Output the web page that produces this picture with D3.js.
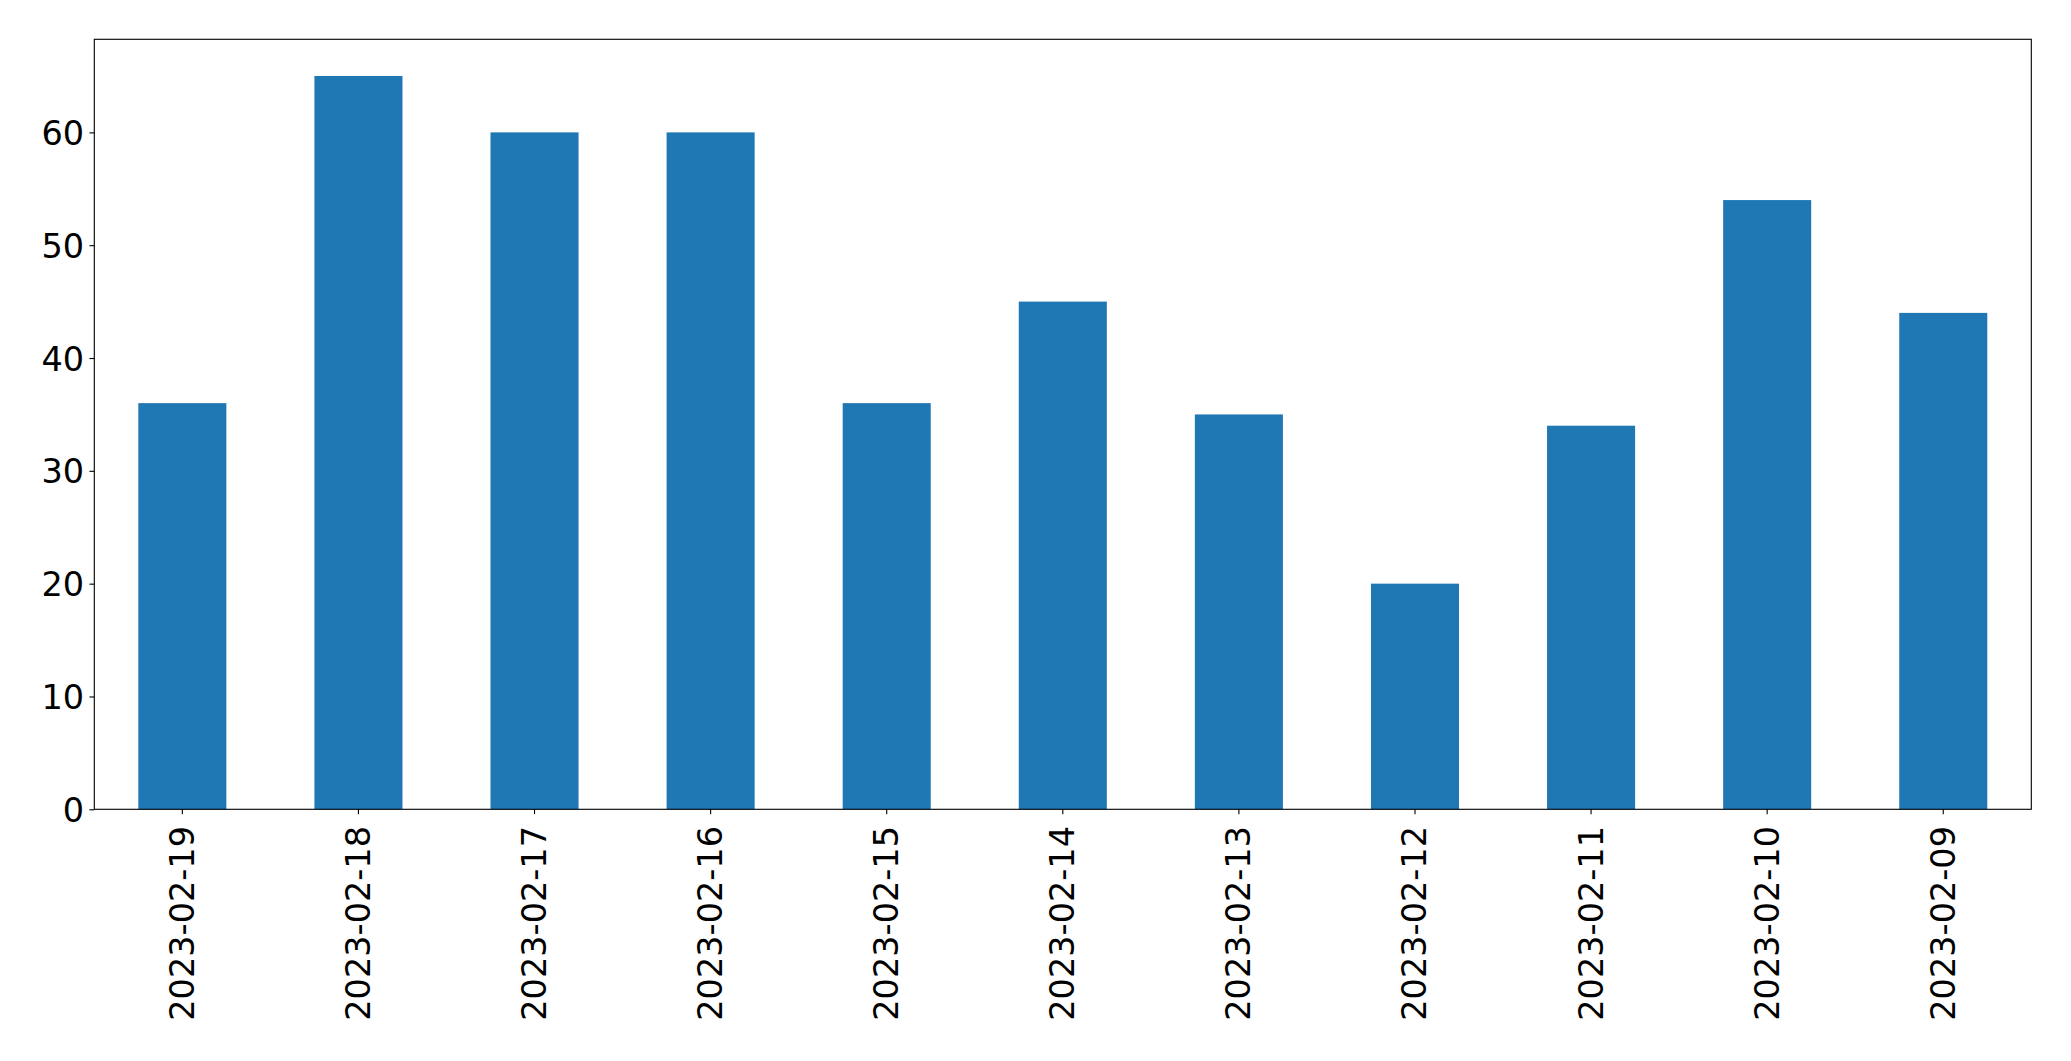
<!DOCTYPE html>
<html><head><meta charset="utf-8">
<script src="https://cdn.jsdelivr.net/npm/d3@7"></script>
<style>html,body{margin:0;padding:0;background:#fff;}</style>
</head><body>
<svg id="c" width="2071" height="1061"></svg>
<script>
const categories = ["2023-02-19","2023-02-18","2023-02-17","2023-02-16","2023-02-15","2023-02-14","2023-02-13","2023-02-12","2023-02-11","2023-02-10","2023-02-09"];
const values = [36, 65, 60, 60, 36, 45, 35, 20, 34, 54, 44];
const yTicks = [0, 10, 20, 30, 40, 50, 60];

const m = {left: 94.3, top: 39.3, right: 2031.3, bottom: 809.3};
const svg = d3.select("#c");
const font = "'DejaVu Sans', sans-serif";
const fs = 33.5;
const tickLen = 4.86, pad = 4.86;

const x = d3.scaleBand().domain(categories).range([m.left, m.right]).paddingInner(0.5).paddingOuter(0.25);
const y = d3.scaleLinear().domain([0, d3.max(values) * 1.05]).range([m.bottom, m.top]);

svg.append("g").selectAll("rect").data(values).join("rect")
  .attr("x", (d, i) => x(categories[i]))
  .attr("width", x.bandwidth())
  .attr("y", d => y(d))
  .attr("height", d => y(0) - y(d))
  .attr("fill", "#1f77b4");

// y axis
const ya = svg.append("g").attr("transform", `translate(${m.left},0)`)
  .call(d3.axisLeft(y).tickValues(yTicks).tickSize(tickLen).tickPadding(pad + 0.5).tickFormat(d3.format("d")));
ya.select(".domain").remove();
ya.selectAll("line").attr("stroke", "#000").attr("stroke-width", 1.11);
ya.selectAll("text").attr("font-family", font).attr("font-size", fs).attr("fill", "#000").attr("dy", "0.36em");

// x axis
const xa = svg.append("g").attr("transform", `translate(0,${m.bottom})`)
  .call(d3.axisBottom(x).tickSize(tickLen).tickPadding(0));
xa.select(".domain").remove();
xa.selectAll("line").attr("stroke", "#000").attr("stroke-width", 1.11);
xa.selectAll("text")
  .attr("font-family", font).attr("font-size", fs).attr("fill", "#000")
  .attr("text-anchor", "end")
  .attr("dy", null)
  .attr("y", null)
  .attr("transform", `translate(0,${tickLen + pad + 7}) rotate(-90)`)
  .attr("dominant-baseline", "central");

// frame
svg.append("rect")
  .attr("x", m.left).attr("y", m.top)
  .attr("width", m.right - m.left).attr("height", m.bottom - m.top)
  .attr("fill", "none").attr("stroke", "#000").attr("stroke-width", 1.11);
</script>
</body></html>
